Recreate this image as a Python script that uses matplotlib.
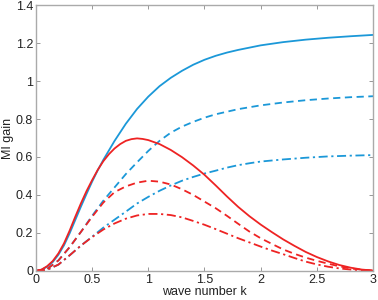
import matplotlib
matplotlib.use('Agg')
import matplotlib.pyplot as plt

# wave numbers and MI gain
k_blue_solid = [0, 0.05, 0.1, 0.15, 0.2, 0.25, 0.3, 0.35, 0.4, 0.45, 0.5, 0.55, 0.6, 0.7, 0.8, 0.9, 1.0, 1.1, 1.2, 1.3, 1.4, 1.5, 1.6, 1.7, 1.8, 2.0, 2.2, 2.4, 2.6, 2.8, 3.0]
g_blue_solid = [0, 0.006, 0.022, 0.047, 0.085, 0.135, 0.198, 0.268, 0.338, 0.405, 0.47, 0.53, 0.585, 0.685, 0.775, 0.853, 0.918, 0.973, 1.017, 1.054, 1.086, 1.112, 1.133, 1.15, 1.164, 1.188, 1.205, 1.218, 1.228, 1.236, 1.243]

k_red_solid = [0, 0.05, 0.1, 0.15, 0.2, 0.25, 0.3, 0.35, 0.4, 0.45, 0.5, 0.55, 0.6, 0.65, 0.7, 0.75, 0.8, 0.85, 0.9, 0.95, 1.0, 1.1, 1.2, 1.3, 1.4, 1.5, 1.6, 1.7, 1.8, 1.9, 2.0, 2.1, 2.2, 2.3, 2.4, 2.5, 2.6, 2.7, 2.8, 2.9, 3.0]
g_red_solid = [0, 0.007, 0.025, 0.052, 0.092, 0.145, 0.212, 0.285, 0.355, 0.42, 0.478, 0.532, 0.578, 0.615, 0.645, 0.668, 0.685, 0.694, 0.698, 0.695, 0.689, 0.668, 0.637, 0.599, 0.555, 0.506, 0.45, 0.392, 0.337, 0.288, 0.244, 0.204, 0.166, 0.132, 0.1, 0.073, 0.05, 0.031, 0.017, 0.007, 0.002]

k_blue_dash = [0, 0.1, 0.2, 0.3, 0.4, 0.5, 0.6, 0.7, 0.8, 0.9, 1.0, 1.1, 1.2, 1.3, 1.4, 1.5, 1.6, 1.8, 2.0, 2.2, 2.4, 2.6, 2.8, 3.0]
g_blue_dash = [0, 0.01, 0.055, 0.125, 0.205, 0.29, 0.37, 0.44, 0.51, 0.572, 0.632, 0.685, 0.728, 0.76, 0.785, 0.807, 0.825, 0.852, 0.872, 0.887, 0.899, 0.908, 0.915, 0.92]

k_red_dash = [0, 0.1, 0.2, 0.3, 0.4, 0.5, 0.6, 0.7, 0.8, 0.9, 1.0, 1.1, 1.2, 1.3, 1.4, 1.5, 1.6, 1.7, 1.8, 1.9, 2.0, 2.1, 2.2, 2.3, 2.4, 2.5, 2.6, 2.7, 2.8, 2.9, 3.0]
g_red_dash = [0, 0.01, 0.055, 0.125, 0.205, 0.285, 0.36, 0.415, 0.445, 0.465, 0.475, 0.47, 0.455, 0.43, 0.40, 0.365, 0.33, 0.29, 0.248, 0.207, 0.172, 0.142, 0.113, 0.09, 0.07, 0.053, 0.038, 0.024, 0.013, 0.006, 0.002]

k_blue_dashdot = [0, 0.1, 0.2, 0.3, 0.4, 0.5, 0.6, 0.7, 0.8, 0.9, 1.0, 1.1, 1.2, 1.3, 1.4, 1.5, 1.6, 1.7, 1.8, 1.9, 2.0, 2.2, 2.4, 2.6, 2.8, 3.0]
g_blue_dashdot = [0, 0.006, 0.033, 0.082, 0.133, 0.18, 0.228, 0.27, 0.312, 0.355, 0.39, 0.422, 0.45, 0.475, 0.495, 0.513, 0.528, 0.544, 0.557, 0.567, 0.576, 0.587, 0.596, 0.603, 0.607, 0.61]

k_red_dashdot = [0, 0.1, 0.2, 0.3, 0.4, 0.5, 0.6, 0.7, 0.8, 0.9, 1.0, 1.1, 1.2, 1.3, 1.4, 1.5, 1.6, 1.7, 1.8, 1.9, 2.0, 2.1, 2.2, 2.3, 2.4, 2.5, 2.6, 2.7, 2.8, 2.9, 3.0]
g_red_dashdot = [0, 0.006, 0.033, 0.082, 0.133, 0.178, 0.218, 0.25, 0.275, 0.292, 0.30, 0.30, 0.294, 0.282, 0.263, 0.243, 0.22, 0.196, 0.172, 0.15, 0.128, 0.107, 0.088, 0.068, 0.049, 0.034, 0.022, 0.013, 0.007, 0.003, 0.001]

x_ticks = [0, 0.5, 1, 1.5, 2, 2.5, 3]
x_tick_labels = ['0', '0.5', '1', '1.5', '2', '2.5', '3']
y_ticks = [0, 0.2, 0.4, 0.6, 0.8, 1.0, 1.2, 1.4]
y_tick_labels = ['0', '0.2', '0.4', '0.6', '0.8', '1', '1.2', '1.4']

blue = '#1b98d8'
red = '#ee2323'

plt.rcParams['font.family'] = ['Liberation Sans', 'DejaVu Sans']
plt.rcParams['font.size'] = 9

fig = plt.figure(figsize=(3.78, 3.0), dpi=100)
ax = fig.add_axes([0.095, 0.097, 0.892, 0.886])

lw = 1.3
dash = (0, (4, 2.5))
dashdot = (0, (5, 2, 1.2, 2))
ax.plot(k_blue_solid, g_blue_solid, color=blue, lw=lw, ls='-')
ax.plot(k_blue_dash, g_blue_dash, color=blue, lw=lw, ls=dash)
ax.plot(k_blue_dashdot, g_blue_dashdot, color=blue, lw=lw, ls=dashdot)
ax.plot(k_red_solid, g_red_solid, color=red, lw=lw, ls='-')
ax.plot(k_red_dash, g_red_dash, color=red, lw=lw, ls=dash)
ax.plot(k_red_dashdot, g_red_dashdot, color=red, lw=lw, ls=dashdot)

ax.set_xlim(0, 3)
ax.set_ylim(0, 1.4)
ax.set_xticks(x_ticks)
ax.set_xticklabels(x_tick_labels)
ax.set_yticks(y_ticks)
ax.set_yticklabels(y_tick_labels)
ax.tick_params(direction='in', top=True, right=True, length=3, width=0.6,
               color='#888888', labelcolor='#222222', pad=2)
for s in ax.spines.values():
    s.set_color('#aaaaaa')
    s.set_linewidth(1.0)

ax.set_xlabel('wave number k', labelpad=0, color='#222222')
ax.set_ylabel('MI gain', labelpad=1, color='#222222')

fig.savefig('out.png', dpi=100)
plt.close(fig)
